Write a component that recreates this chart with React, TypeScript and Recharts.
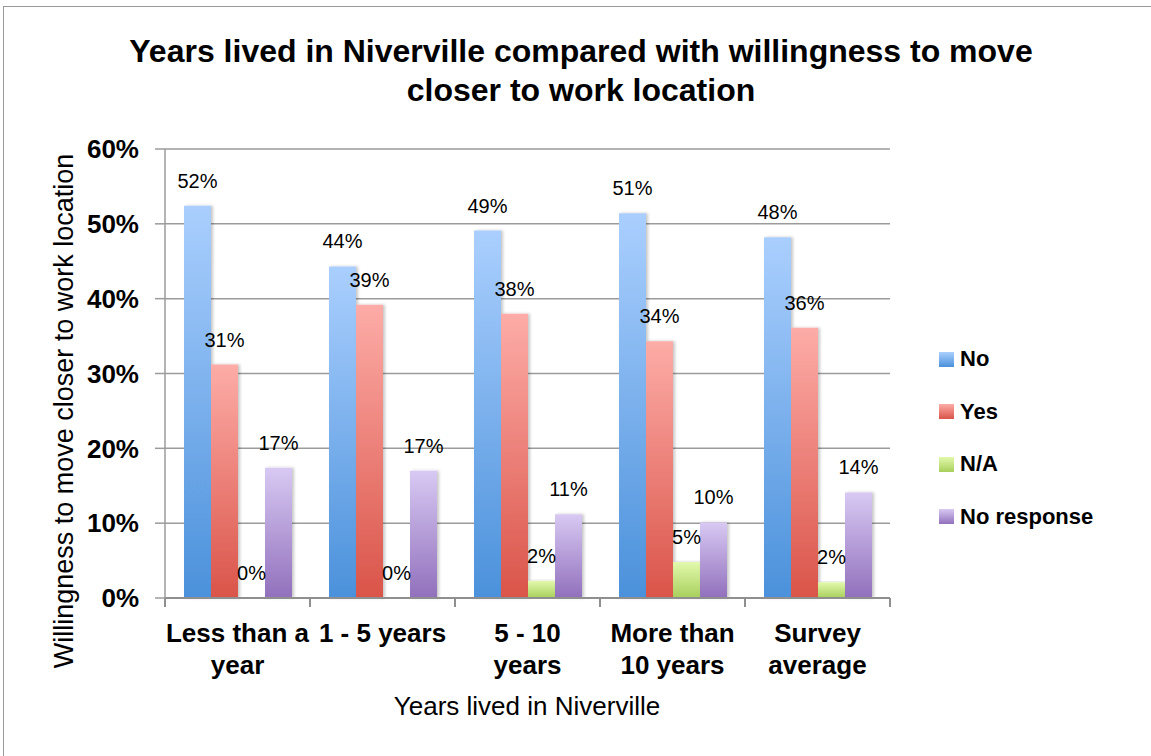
import React from "react";
import {
  BarChart,
  Bar,
  XAxis,
  YAxis,
  CartesianGrid,
  LabelList,
} from "recharts";

const categories = [
  "Less than a\nyear",
  "1 - 5 years",
  "5 - 10\nyears",
  "More than\n10 years",
  "Survey\naverage",
];
const noValues = [52.4, 44.3, 49.1, 51.4, 48.2];
const yesValues = [31.2, 39.2, 38.0, 34.3, 36.1];
const naValues = [0, 0, 2.3, 4.8, 2.1];
const noResponseValues = [17.4, 17.0, 11.2, 10.1, 14.1];
const yTicks = [0, 10, 20, 30, 40, 50, 60];

const series = [
  { key: "no", name: "No", top: "#aacffe", bottom: "#4b91db" },
  { key: "yes", name: "Yes", top: "#fdaca7", bottom: "#da5449" },
  { key: "na", name: "N/A", top: "#e2f9ac", bottom: "#a8cf5c" },
  { key: "noResponse", name: "No response", top: "#d8c9f3", bottom: "#9170bc" },
];

const data = categories.map((cat, i) => ({
  cat,
  idx: i + 0.5,
  no: noValues[i],
  yes: yesValues[i],
  na: naValues[i],
  noResponse: noResponseValues[i],
}));

const FONT = '"Liberation Sans", Arial, Helvetica, sans-serif';

const CategoryTick = (props: any) => {
  const { x, y, payload } = props;
  const lines = String(payload.value).split("\n");
  return (
    <g>
      {lines.map((line, i) => (
        <text
          key={i}
          x={x}
          y={y + 34 + i * 32}
          textAnchor="middle"
          fontFamily={FONT}
          fontWeight="bold"
          fontSize={26}
          fill="#000"
        >
          {line}
        </text>
      ))}
    </g>
  );
};

// empty tick so the boundary axis keeps its tick marks but shows no text
const NoTickText = () => <g />;

// legend drawn as plain html so it doesn't eat into the plot width
const ChartLegend = () => (
  <div style={{ position: "absolute", left: 939, top: 333 }}>
    {series.map((s) => (
      <div
        key={s.key}
        style={{ display: "flex", alignItems: "center", height: 52.5 }}
      >
        <div
          style={{
            width: 15,
            height: 15,
            marginRight: 6,
            background: `linear-gradient(${s.top}, ${s.bottom})`,
          }}
        />
        <span style={{ fontSize: 22, fontWeight: "bold", color: "#000" }}>
          {s.name}
        </span>
      </div>
    ))}
  </div>
);

export default function App() {
  return (
    <div
      style={{
        position: "absolute",
        left: 0,
        top: 0,
        width: 1151,
        height: 756,
        background: "#fff",
        overflow: "hidden",
        fontFamily: FONT,
      }}
    >
      <div
        style={{
          position: "absolute",
          left: 3,
          top: 6,
          width: 1160,
          height: 770,
          border: "1.5px solid #999",
          boxSizing: "border-box",
        }}
      />
      <div
        style={{
          position: "absolute",
          left: 0,
          width: 1162,
          top: 32,
          textAlign: "center",
          fontWeight: "bold",
          fontSize: 32,
          lineHeight: "39px",
          color: "#000",
          whiteSpace: "nowrap",
        }}
      >
        Years lived in Niverville compared with willingness to move
        <br />
        closer to work location
      </div>
      <div
        style={{
          position: "absolute",
          left: 64,
          top: 411,
          transform: "translate(-50%, -50%) rotate(-90deg)",
          whiteSpace: "nowrap",
          fontSize: 27,
          color: "#000",
        }}
      >
        Willingness to move closer to work location
      </div>
      <div
        style={{
          position: "absolute",
          left: 527,
          top: 706,
          transform: "translate(-50%, -50%)",
          whiteSpace: "nowrap",
          fontSize: 26,
          color: "#000",
        }}
      >
        Years lived in Niverville
      </div>
      <div style={{ position: "absolute", left: 0, top: 0 }}>
        <BarChart
          width={1151}
          height={756}
          data={data}
          margin={{ top: 149, right: 261, bottom: 68, left: 105 }}
          barCategoryGap={19}
          barGap={0}
        >
          <defs>
            {series.map((s) => (
              <linearGradient
                key={s.key}
                id={`grad-${s.key}`}
                x1="0"
                y1="0"
                x2="0"
                y2="1"
              >
                <stop offset="0%" stopColor={s.top} />
                <stop offset="100%" stopColor={s.bottom} />
              </linearGradient>
            ))}
            <filter id="barShadow" x="-20%" y="-5%" width="150%" height="110%">
              <feDropShadow
                dx={2}
                dy={0}
                stdDeviation={1.5}
                floodColor="#000"
                floodOpacity={0.22}
              />
            </filter>
          </defs>
          <CartesianGrid
            vertical={false}
            stroke="#9b9b9b"
            strokeWidth={1.5}
          />
          <XAxis
            xAxisId="b"
            dataKey="cat"
            interval={0}
            tickLine={false}
            axisLine={false}
            tickSize={0}
            tickMargin={0}
            height={80}
            tick={<CategoryTick />}
          />
          {/* numeric axis only used for the tick marks between categories */}
          <XAxis
            xAxisId="a"
            type="number"
            dataKey="idx"
            domain={[0, 5]}
            ticks={[0, 1, 2, 3, 4, 5]}
            tick={<NoTickText />}
            tickSize={9}
            height={10}
            stroke="#8f8f8f"
            strokeWidth={2}
          />
          <YAxis
            width={60}
            domain={[0, 60]}
            ticks={yTicks}
            tickFormatter={(v: number) => `${v}%`}
            tickSize={10}
            tickMargin={16}
            stroke="#9b9b9b"
            strokeWidth={1.5}
            tick={{
              fill: "#000",
              fontFamily: FONT,
              fontWeight: "bold",
              fontSize: 26,
            }}
          />
          {series.map((s) => (
            <Bar
              key={s.key}
              xAxisId="b"
              dataKey={s.key}
              name={s.name}
              fill={`url(#grad-${s.key})`}
              filter="url(#barShadow)"
              minPointSize={0.2}
              isAnimationActive={false}
            >
              <LabelList
                dataKey={s.key}
                position="top"
                offset={18}
                formatter={(v: any) => `${Math.round(Number(v))}%`}
                style={{ fontFamily: FONT, fontSize: 20, fill: "#000" }}
              />
            </Bar>
          ))}
        </BarChart>
      </div>
      <ChartLegend />
    </div>
  );
}
